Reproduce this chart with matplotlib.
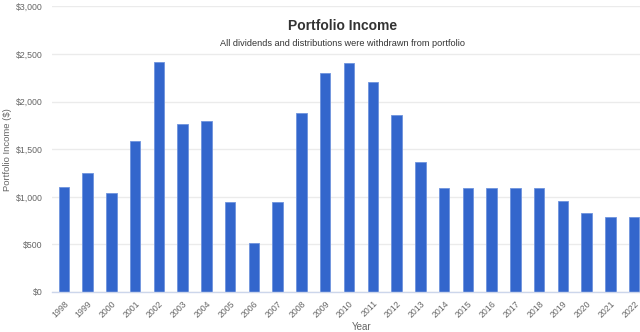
import matplotlib
matplotlib.use("Agg")
import matplotlib.pyplot as plt
from matplotlib.ticker import FuncFormatter, MultipleLocator

plt.rcParams["font.family"] = ["Liberation Sans", "DejaVu Sans"]

years = [str(y) for y in range(1998, 2023)]
income = [1100, 1250, 1040, 1590, 2420, 1765, 1795, 945, 510, 945, 1885,
          2300, 2405, 2210, 1860, 1365, 1090, 1090, 1090, 1090, 1090,
          955, 825, 790, 790]

bar_color = "#3366cc"
text_gray = "#666666"

fig = plt.figure(figsize=(6.4, 3.32), dpi=100)
# plot area runs a little past the right edge of the canvas
ax = fig.add_axes([52 / 640, 1 - 292 / 332, 594 / 640, 285.5 / 332])

x = range(len(years))
ax.bar(x, income, width=0.44, color=bar_color, edgecolor="#6f93dd",
       linewidth=0.6, zorder=3)

ax.set_xlim(-0.5, len(years) - 0.5)
ax.set_ylim(0, 3000)
ax.yaxis.set_major_locator(MultipleLocator(500))
ax.yaxis.set_major_formatter(FuncFormatter(lambda v, _: f"${v:,.0f}"))
ax.grid(axis="y", color="#ebebeb", linewidth=1, zorder=0)

for side in ("top", "right", "left"):
    ax.spines[side].set_visible(False)
ax.spines["bottom"].set_color("#ccd6eb")
ax.spines["bottom"].set_linewidth(1)
ax.spines["bottom"].set_zorder(4)

ax.set_xticks(list(x))
ax.set_xticklabels(years, rotation=45, ha="right", rotation_mode="anchor")
ax.tick_params(axis="x", length=0, pad=5, labelsize=6.3, labelcolor=text_gray)
ax.tick_params(axis="y", length=0, pad=7, labelsize=6.3, labelcolor=text_gray)

fig.text(8 / 640, 1 - 150 / 332, "Portfolio Income ($)", rotation=90,
         ha="center", va="center", fontsize=6.8, color=text_gray)
fig.text(362 / 640, 1 - 327 / 332, "Year", ha="center", va="center",
         fontsize=7, color=text_gray)

fig.text(343 / 640, 1 - 26 / 332, "Portfolio Income", ha="center",
         va="center", fontsize=10, fontweight="bold", color="#333333")
fig.text(343 / 640, 1 - 43 / 332,
         "All dividends and distributions were withdrawn from portfolio",
         ha="center", va="center", fontsize=6.6, color="#333333")

fig.savefig("out.png", dpi=100, facecolor="white")
